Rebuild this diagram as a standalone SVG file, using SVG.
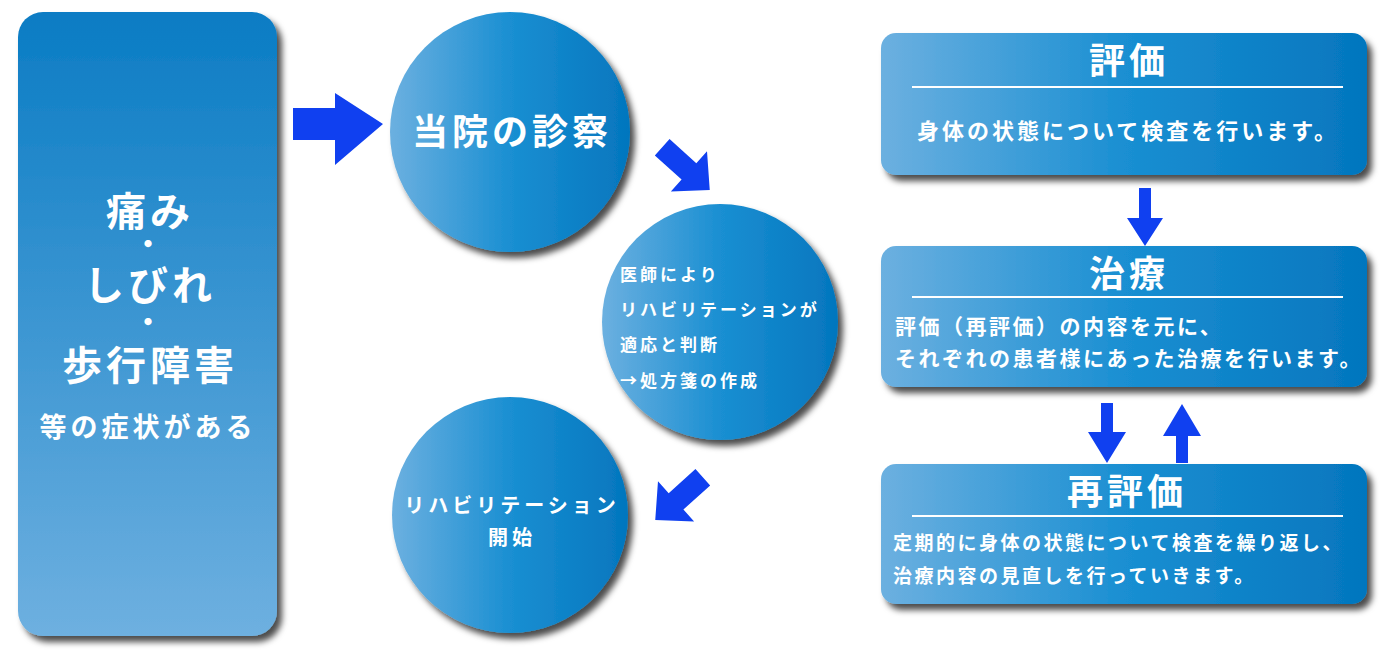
<svg xmlns="http://www.w3.org/2000/svg" width="1400" height="650" viewBox="0 0 1400 650">
<style>
text{font-family:"Noto Sans CJK JP","Noto Sans",sans-serif;fill:#fff;font-weight:bold}
.c{text-anchor:middle}
.arr{fill:#1040f0}
</style>
<defs>
<linearGradient id="gv" x1="0" y1="0" x2="0" y2="1"><stop offset="0" stop-color="#0a7cc4"/><stop offset="1" stop-color="#6eb0e0"/></linearGradient>
<linearGradient id="gh" x1="0" y1="0" x2="1" y2="0"><stop offset="0" stop-color="#6cb0e0"/><stop offset="0.5" stop-color="#1a8fd2"/><stop offset="1" stop-color="#0476be"/></linearGradient>
<filter id="sh" x="-10%" y="-10%" width="130%" height="130%"><feDropShadow dx="5" dy="6" stdDeviation="3" flood-color="#000" flood-opacity="0.7"/></filter>
</defs>
<rect width="1400" height="650" fill="#fff"/>
<g id="connectors">
<polygon class="arr" points="293,108 335,108 335,93 383,124 335,165 335,140 293,140"/>
<polygon class="arr" points="-28,-11 8,-11 8,-27 36,0 8,27 8,11 -28,11" transform="translate(683,166) rotate(42)"/>
<polygon class="arr" points="-28,-11 8,-11 8,-27 36,0 8,27 8,11 -28,11" transform="translate(682,496) rotate(138)"/>
<polygon class="arr" points="1139,188 1151,188 1151,218 1163,218 1145,246 1127,218 1139,218"/>
<polygon class="arr" points="1101,403 1113,403 1113,432 1126,432 1107,463 1088,432 1101,432"/>
<polygon class="arr" points="1176,463 1188,463 1188,436 1201,436 1182,404 1163,436 1176,436"/>
</g>
<g id="left">
<rect x="18" y="12" width="259" height="624" rx="25" fill="url(#gv)" filter="url(#sh)"/>
<text class="c" x="150" y="226" font-size="40" letter-spacing="4">痛み</text>
<text class="c" x="148" y="255" font-size="28">・</text>
<text class="c" x="150" y="300" font-size="40" letter-spacing="4">しびれ</text>
<text class="c" x="148" y="333" font-size="28">・</text>
<text class="c" x="150" y="380" font-size="40" letter-spacing="4">歩行障害</text>
<text class="c" x="148" y="437" font-size="27" letter-spacing="4">等の症状がある</text>
</g>
<g id="c1">
<circle cx="510" cy="132" r="120" fill="url(#gh)" filter="url(#sh)"/>
<text class="c" x="512" y="145" font-size="36" letter-spacing="4">当院の診察</text>
</g>
<g id="c2">
<circle cx="720" cy="322" r="118" fill="url(#gh)" filter="url(#sh)"/>
<text x="620" y="281" font-size="17" letter-spacing="3">医師により</text>
<text x="620" y="316" font-size="17" letter-spacing="3">リハビリテーションが</text>
<text x="620" y="351" font-size="17" letter-spacing="3">適応と判断</text>
<text x="620" y="387" font-size="17" letter-spacing="3">→処方箋の作成</text>
</g>
<g id="c3">
<circle cx="510" cy="515" r="118" fill="url(#gh)" filter="url(#sh)"/>
<text class="c" x="512" y="513" font-size="20" letter-spacing="4">リハビリテーション</text>
<text class="c" x="512" y="545" font-size="20" letter-spacing="4">開始</text>
</g>
<g id="b1">
<rect x="881" y="33" width="486" height="142" rx="15" fill="url(#gh)" filter="url(#sh)"/>
<text class="c" x="1129" y="74" font-size="36" letter-spacing="4">評価</text>
<line x1="912" y1="87" x2="1343" y2="87" stroke="#fff" stroke-width="2"/>
<text class="c" x="1128" y="139" font-size="22" letter-spacing="3">身体の状態について検査を行います。</text>
</g>
<g id="b2">
<rect x="881" y="246" width="486" height="141" rx="15" fill="url(#gh)" filter="url(#sh)"/>
<text class="c" x="1129" y="287" font-size="36" letter-spacing="4">治療</text>
<line x1="912" y1="297" x2="1343" y2="297" stroke="#fff" stroke-width="2"/>
<text x="895" y="334" font-size="21" letter-spacing="2.5">評価（再評価）の内容を元に、</text>
<text x="895" y="366" font-size="21" letter-spacing="2.5">それぞれの患者様にあった治療を行います。</text>
</g>
<g id="b3">
<rect x="881" y="464" width="486" height="140" rx="15" fill="url(#gh)" filter="url(#sh)"/>
<text class="c" x="1127" y="505" font-size="36" letter-spacing="4">再評価</text>
<line x1="912" y1="516" x2="1343" y2="516" stroke="#fff" stroke-width="2"/>
<text x="893" y="550" font-size="19" letter-spacing="2.5">定期的に身体の状態について検査を繰り返し、</text>
<text x="893" y="583" font-size="19" letter-spacing="2.5">治療内容の見直しを行っていきます。</text>
</g>
</svg>
